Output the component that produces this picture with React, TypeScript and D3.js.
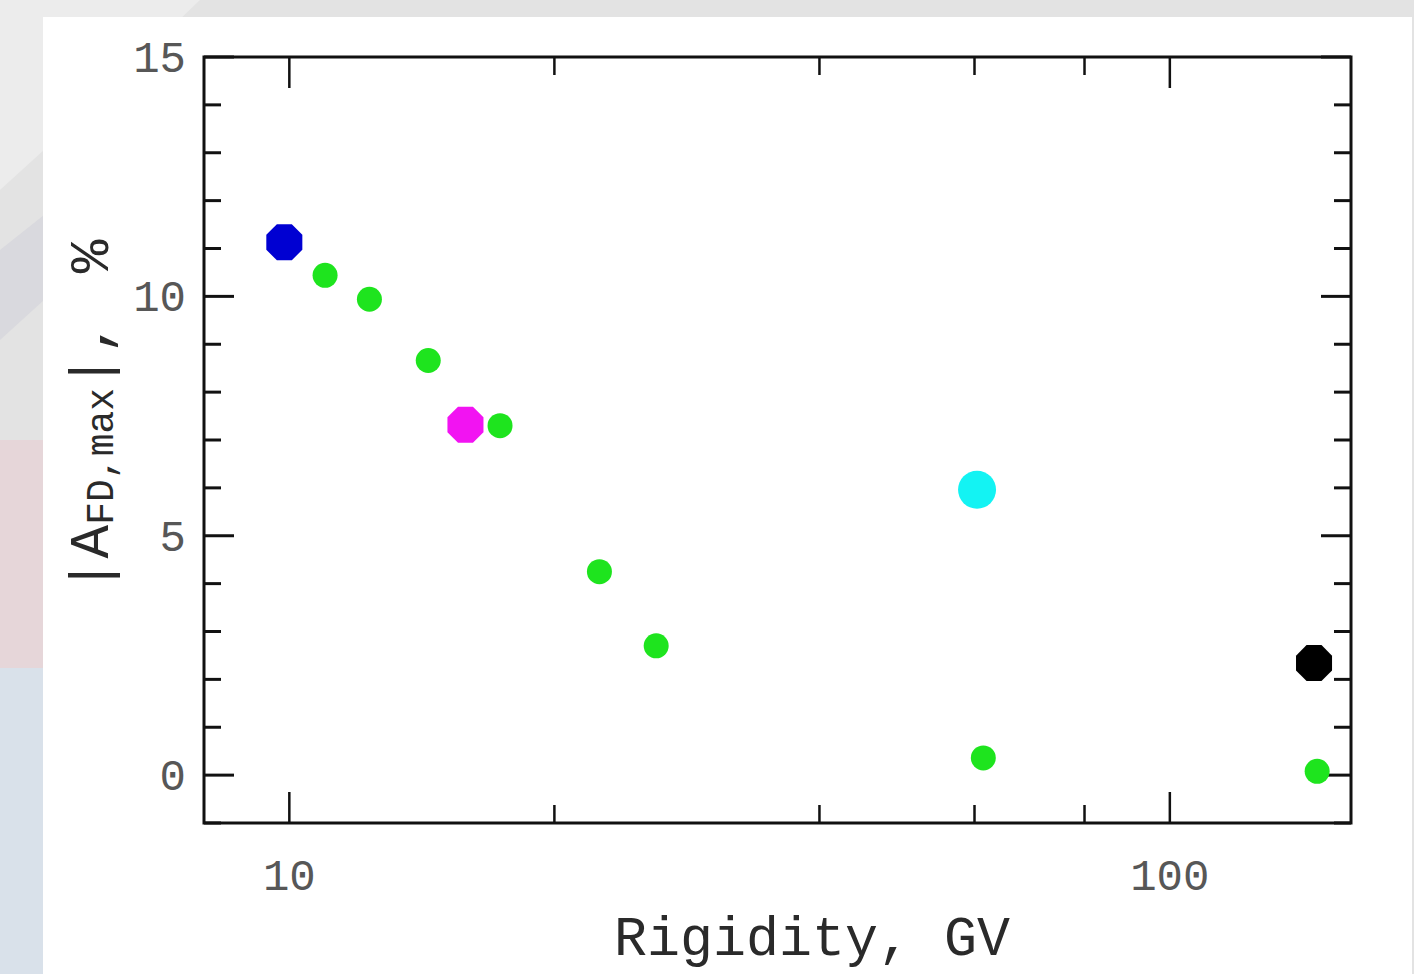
import * as d3 from "d3";

// rigidity (GV) and |A_FD,max| (%)
const greenRigidity = [10.98, 12.33, 14.38, 17.35, 22.5, 26.1, 61.4, 147];
const greenAmp = [10.44, 9.94, 8.66, 7.3, 4.25, 2.7, 0.36, 0.08];

const bigRigidity = [9.87, 15.85, 60.4, 145.8];
const bigAmp = [11.13, 7.32, 5.96, 2.34];
const bigColors = ["#0000d2", "#f213f2", "#13f3f3", "#000000"];

const xMajorTicks = [10, 100];
const xMinorTicks = [20, 40, 60, 80];
const yMajorTicks = [0, 5, 10, 15];
const yMinorTicks = d3.range(-1, 16);

const W = 1414;
const H = 974;
const plot = { left: 204, right: 1351, top: 57, bottom: 823 };

const x = d3.scaleLog().domain([8.0, 160.6]).range([plot.left, plot.right]);
const y = d3.scaleLinear().domain([-1, 15]).range([plot.bottom, plot.top]);

const mono = "'Liberation Mono', 'DejaVu Sans Mono', monospace";

function octagon(cx: number, cy: number, r: number) {
  const pts = d3.range(8).map((i) => {
    const a = Math.PI / 8 + (i * Math.PI) / 4;
    return [cx + r * Math.cos(a), cy + r * Math.sin(a)] as [number, number];
  });
  return d3.line()(pts) + "Z";
}

export default function App() {
  const tickLen = { major: 30, minor: 17 };
  return (
    <svg
      width={W}
      height={H}
      style={{ position: "absolute", left: 0, top: 0, display: "block" }}
    >
      {/* page background behind the white panel */}
      <rect x={0} y={0} width={W} height={H} fill="#e3e3e3" />
      <path d="M0,0 L200,0 L44,150 L0,190 Z" fill="#ececec" />
      <path d="M0,250 L44,215 L44,300 L0,340 Z" fill="#d9d9de" />
      <rect x={0} y={440} width={44} height={228} fill="#e6d6d9" />
      <rect x={0} y={668} width={44} height={306} fill="#d9e1ea" />
      <rect x={43} y={17} width={1369} height={H - 17} fill="#ffffff" />

      {/* frame */}
      <rect
        x={plot.left}
        y={plot.top}
        width={plot.right - plot.left}
        height={plot.bottom - plot.top}
        fill="none"
        stroke="#111"
        strokeWidth={3}
      />

      {/* y ticks, both sides */}
      {yMinorTicks.map((t) => {
        const len = yMajorTicks.includes(t) ? tickLen.major : tickLen.minor;
        return (
          <g key={"y" + t} stroke="#111" strokeWidth={3}>
            <line x1={plot.left} x2={plot.left + len} y1={y(t)} y2={y(t)} />
            <line x1={plot.right} x2={plot.right - len} y1={y(t)} y2={y(t)} />
          </g>
        );
      })}

      {/* x ticks, top and bottom */}
      {[...xMajorTicks, ...xMinorTicks].map((t) => {
        const len = xMajorTicks.includes(t) ? tickLen.major + 1 : tickLen.minor + 1;
        return (
          <g key={"x" + t} stroke="#111" strokeWidth={2.5}>
            <line x1={x(t)} x2={x(t)} y1={plot.bottom} y2={plot.bottom - len} />
            <line x1={x(t)} x2={x(t)} y1={plot.top} y2={plot.top + len} />
          </g>
        );
      })}

      {/* tick labels */}
      {yMajorTicks.map((t) => (
        <text
          key={"yl" + t}
          x={186}
          y={y(t) + 15}
          textAnchor="end"
          fontFamily={mono}
          fontSize={44}
          fill="#575757"
        >
          {t}
        </text>
      ))}
      {xMajorTicks.map((t) => (
        <text
          key={"xl" + t}
          x={x(t)}
          y={890}
          textAnchor="middle"
          fontFamily={mono}
          fontSize={44}
          fill="#575757"
        >
          {t}
        </text>
      ))}

      {/* axis titles */}
      <text
        x={812}
        y={955}
        textAnchor="middle"
        fontFamily={mono}
        fontSize={55}
        fill="#2a2a2a"
      >
        Rigidity, GV
      </text>
      <text
        transform="translate(108,592) rotate(-90)"
        fontFamily={mono}
        fontSize={56}
        fill="#2a2a2a"
      >
        |A
        <tspan fontSize={38} dy={5}>
          FD,max
        </tspan>
        <tspan dy={-5}>|,</tspan>
        <tspan dx={14}> %</tspan>
      </text>

      {/* markers */}
      {greenRigidity.map((r, i) => (
        <circle key={"g" + i} cx={x(r)} cy={y(greenAmp[i])} r={12.5} fill="#1ee41e" />
      ))}
      {bigRigidity.map((r, i) =>
        i === 2 ? (
          <circle key={"b" + i} cx={x(r)} cy={y(bigAmp[i])} r={19} fill={bigColors[i]} />
        ) : (
          <path key={"b" + i} d={octagon(x(r), y(bigAmp[i]), 19.5)} fill={bigColors[i]} />
        )
      )}
    </svg>
  );
}
